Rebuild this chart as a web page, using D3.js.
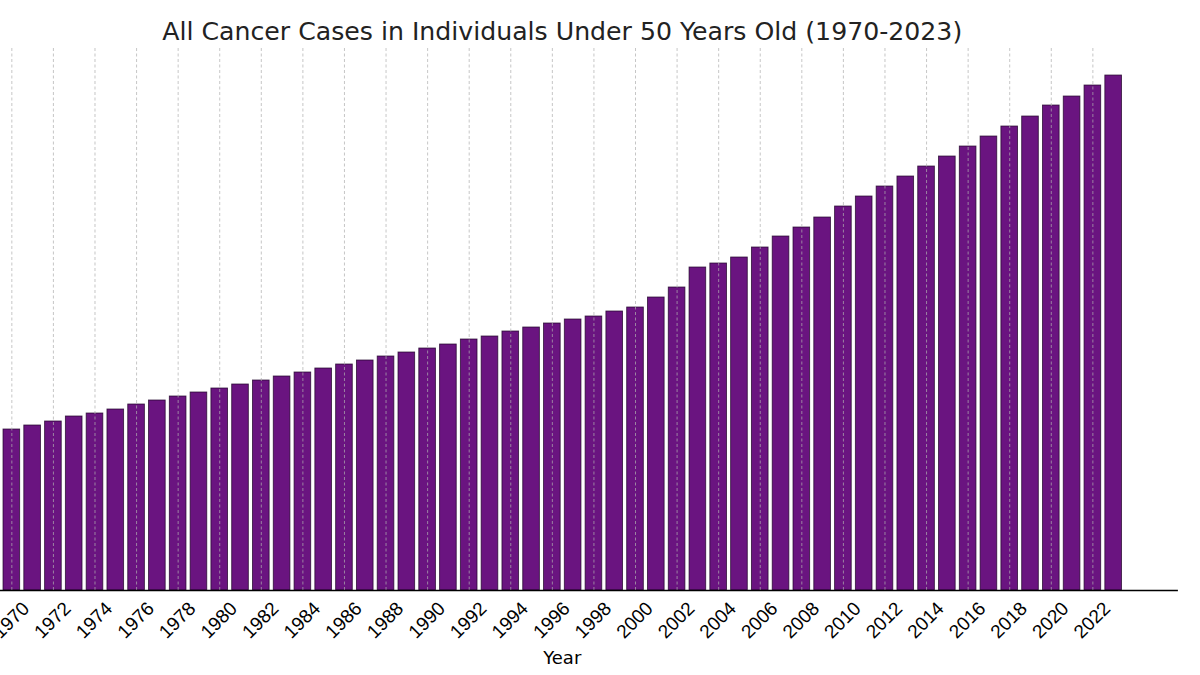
<!DOCTYPE html>
<html>
<head>
<meta charset="utf-8">
<script src="https://cdn.jsdelivr.net/npm/d3@7"></script>
<style>
    html, body { margin: 0; padding: 0; background: #ffffff; }
    svg { display: block; font-family: "DejaVu Sans", sans-serif; }
</style>
</head>
<body>
<div id="chart"></div>
<script>

var years = d3.range(1970, 2024);

// relative case counts
var cases = [
    161, 165, 169, 174, 177, 181, 186, 190, 194, 198,
    202, 206, 210, 214, 218, 222, 226, 230, 234, 238,
    242, 246, 251, 254, 259, 263, 267, 271, 274, 279,
    283, 293, 303, 323, 327, 333, 343, 354, 363, 373,
    384, 394, 404, 414, 424, 434, 444, 454, 464, 474,
    485, 494, 505, 515
];

var tickYears = d3.range(1970, 2023, 2);

var title = "All Cancer Cases in Individuals Under 50 Years Old (1970-2023)";
var xLabel = "Year";

var w = 1200,
    h = 675;

// plot area (left edge sits off-canvas like the original crop)
var plotLeft = -52.9,
    plotRight = 1177.4,
    plotTop = 48,
    plotBottom = 590;

var svg = d3.select("#chart")
    .append("svg")
    .attr("width", w)
    .attr("height", h);

var data = years.map(function(y, i) {
    return { year: y, value: cases[i] };
});

var barW = 0.8;
var pad = (years[years.length - 1] - years[0] + barW) * 0.05 + barW / 2;

var x = d3.scaleLinear()
    .domain([years[0] - pad, years[years.length - 1] + pad])
    .range([plotLeft, plotRight]);

var y = d3.scaleLinear()
    .domain([0, d3.max(cases) * 1.0525])
    .range([plotBottom, plotTop]);

// bars
svg.selectAll(".bar")
    .data(data)
    .enter()
    .append("rect")
    .attr("class", "bar")
    .attr("x", function(d) { return x(d.year - barW / 2); })
    .attr("y", function(d) { return y(d.value); })
    .attr("width", x(barW) - x(0))
    .attr("height", function(d) { return y(0) - y(d.value); })
    .attr("fill", "#6a1480")
    .attr("stroke", "#22052a")
    .attr("stroke-opacity", 0.8)
    .attr("stroke-width", 0.9);

// vertical grid, drawn over the bars
svg.append("g")
    .attr("class", "grid")
    .attr("transform", "translate(0," + plotBottom + ")")
    .call(d3.axisBottom(x)
        .tickValues(tickYears)
        .tickSize(-(plotBottom - plotTop))
        .tickFormat(""))
    .call(function(g) {
        g.select(".domain").remove();
        g.selectAll("line")
            .attr("stroke", "#b0b0b0")
            .attr("stroke-opacity", 0.9)
            .attr("stroke-width", 0.8)
            .attr("stroke-dasharray", "3,2.5");
    });

// x axis with rotated labels
var xAxis = svg.append("g")
    .attr("transform", "translate(0," + plotBottom + ")")
    .call(d3.axisBottom(x)
        .tickValues(tickYears)
        .tickSize(0)
        .tickFormat(d3.format("d")));

xAxis.select(".domain")
    .attr("stroke", "#000")
    .attr("stroke-width", 1.4);

xAxis.selectAll("text")
    .attr("fill", "#000")
    .style("font-size", "19px")
    .attr("text-anchor", "middle")
    .attr("dy", null)
    .attr("y", null)
    .attr("dominant-baseline", "central")
    .attr("transform", "translate(-1,30) rotate(-45)");

// axis label
svg.append("text")
    .attr("x", (plotLeft + plotRight) / 2)
    .attr("y", 664)
    .attr("text-anchor", "middle")
    .style("font-size", "18px")
    .attr("fill", "#000")
    .text(xLabel);

// title
svg.append("text")
    .attr("x", (plotLeft + plotRight) / 2)
    .attr("y", 40)
    .attr("text-anchor", "middle")
    .style("font-size", "25.2px")
    .attr("fill", "#222")
    .text(title);

</script>
</body>
</html>
